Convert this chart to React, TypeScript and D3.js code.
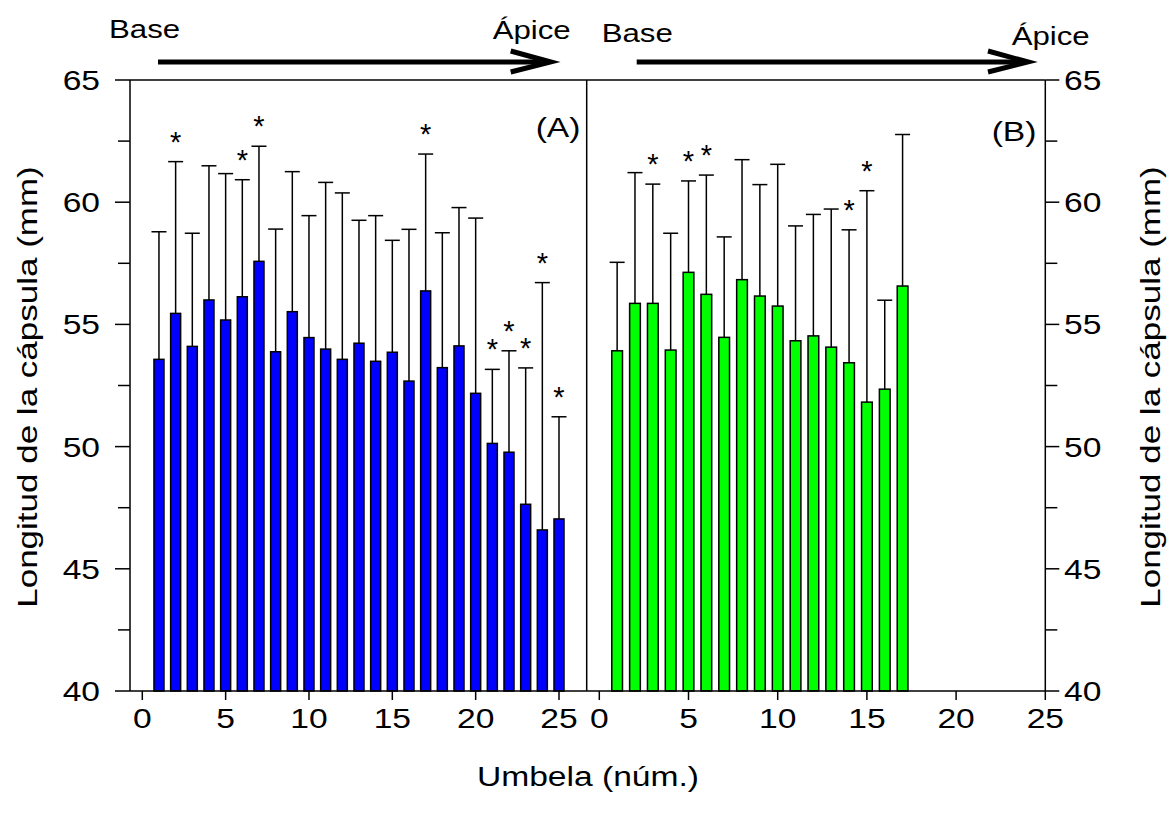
import React from 'react';
import * as d3 from 'd3';

const umbelaA = [1, 2, 3, 4, 5, 6, 7, 8, 9, 10, 11, 12, 13, 14, 15, 16, 17, 18, 19, 20, 21, 22, 23, 24, 25];
const meanA = [53.57, 55.45, 54.1, 56.0, 55.18, 56.13, 57.58, 53.88, 55.52, 54.46, 53.99, 53.57, 54.23, 53.49, 53.86, 52.68, 56.37, 53.23, 54.12, 52.18, 50.13, 49.77, 47.64, 46.59, 47.04];
const sdA = [5.22, 6.21, 4.63, 5.49, 5.99, 4.79, 4.71, 5.02, 5.73, 4.99, 6.82, 6.81, 5.03, 5.96, 4.58, 6.21, 5.6, 5.52, 5.66, 7.17, 3.03, 4.15, 5.58, 10.12, 4.18];
const sigA = [2, 6, 7, 17, 21, 22, 23, 24, 25];

const umbelaB = [1, 2, 3, 4, 5, 6, 7, 8, 9, 10, 11, 12, 13, 14, 15, 16, 17];
const meanB = [53.92, 55.86, 55.86, 53.95, 57.13, 56.23, 54.47, 56.83, 56.16, 55.75, 54.33, 54.53, 54.07, 53.43, 51.82, 52.35, 56.57];
const sdB = [3.62, 5.35, 4.88, 4.78, 3.74, 4.88, 4.11, 4.91, 4.56, 5.8, 4.7, 4.97, 5.65, 5.44, 8.65, 3.64, 6.2];
const sigB = [3, 5, 6, 14, 15];

const xTicks = [0, 5, 10, 15, 20, 25];
const yMajor = [40, 45, 50, 55, 60, 65];
const yMinor = [42.5, 47.5, 52.5, 57.5, 62.5];

const FONT = 'Arial, "Liberation Sans", Helvetica, sans-serif';

const W = 1175;
const H = 823;

const yScale = d3.scaleLinear().domain([40, 65]).range([691, 80]);
const xA = d3.scaleLinear().domain([0, 25]).range([142.3, 559]);
const xB = d3.scaleLinear().domain([0, 25]).range([599.3, 1045.3]);

const leftEdge = 130;
const midEdge = 586.7;
const rightEdge = 1045.3;

const TICK_FS = 28;
const SX = 1.2;

function HText({ x, y, text, anchor = 'start', fs = TICK_FS, sx = SX }: any) {
  return (
    <text
      transform={`translate(${x},${y}) scale(${sx},1)`}
      textAnchor={anchor}
      fontFamily={FONT}
      fontSize={fs}
      fill="#000"
    >
      {text}
    </text>
  );
}

function Bars({ cats, means, sds, sig, x, fill }: any) {
  const bw = (x(1) - x(0)) * 0.6;
  const cap = 15;
  return (
    <g>
      {cats.map((c: number, i: number) => {
        const cx = x(c);
        const top = yScale(means[i]);
        const et = yScale(means[i] + sds[i]);
        return (
          <g key={c}>
            <line x1={cx} x2={cx} y1={top} y2={et} stroke="#000" strokeWidth={1.5} />
            <line x1={cx - cap / 2} x2={cx + cap / 2} y1={et} y2={et} stroke="#000" strokeWidth={1.5} />
            <rect x={cx - bw / 2} y={top} width={bw} height={yScale(40) - top} fill={fill} stroke="#000" strokeWidth={1.5} />
            {sig.includes(c) && (
              <text x={cx} y={et - 10} textAnchor="middle" fontFamily={FONT} fontSize={29} fill="#000">*</text>
            )}
          </g>
        );
      })}
    </g>
  );
}

function Arrow({ x1, x2, y }: any) {
  return (
    <g stroke="#000" strokeWidth={5} fill="none">
      <line x1={x1} x2={x2 - 2} y1={y} y2={y} />
      <polyline points={`${x2 - 40},${y - 11} ${x2},${y} ${x2 - 40},${y + 10}`} strokeLinejoin="miter" />
    </g>
  );
}

export default function App() {
  const y0 = yScale(40);
  const y65 = yScale(65);
  return (
    <svg width={W} height={H} style={{ display: 'block', position: 'absolute', left: 0, top: 0, background: '#fff' }}>
      <rect x={0} y={0} width={W} height={H} fill="#fff" />
      {/* bars */}
      <Bars cats={umbelaA} means={meanA} sds={sdA} sig={sigA} x={xA} fill="#0000ff" />
      <Bars cats={umbelaB} means={meanB} sds={sdB} sig={sigB} x={xB} fill="#00ff00" />

      {/* frame */}
      <g stroke="#000" strokeWidth={1.5}>
        <line x1={leftEdge} x2={leftEdge} y1={y65} y2={y0} />
        <line x1={midEdge} x2={midEdge} y1={y65} y2={y0} />
        <line x1={rightEdge} x2={rightEdge} y1={y65} y2={y0} />
        <line x1={leftEdge} x2={rightEdge} y1={y65} y2={y65} />
        <line x1={leftEdge} x2={rightEdge} y1={y0} y2={y0} />
        {yMajor.map((v) => (
          <line key={'lm' + v} x1={leftEdge - 15} x2={leftEdge} y1={yScale(v)} y2={yScale(v)} />
        ))}
        {yMinor.map((v) => (
          <line key={'ln' + v} x1={leftEdge - 12} x2={leftEdge} y1={yScale(v)} y2={yScale(v)} />
        ))}
        {yMajor.map((v) => (
          <line key={'rm' + v} x1={rightEdge} x2={rightEdge + 14} y1={yScale(v)} y2={yScale(v)} />
        ))}
        {yMinor.map((v) => (
          <line key={'rn' + v} x1={rightEdge} x2={rightEdge + 12} y1={yScale(v)} y2={yScale(v)} />
        ))}
        {xTicks.map((t) => (
          <line key={'xa' + t} x1={xA(t)} x2={xA(t)} y1={y0} y2={y0 + 9} />
        ))}
        {xTicks.map((t) => (
          <line key={'xb' + t} x1={xB(t)} x2={xB(t)} y1={y0} y2={y0 + 9} />
        ))}
      </g>

      {/* tick labels */}
      {yMajor.map((v) => (
        <HText key={'ly' + v} x={100} y={yScale(v) + 10} text={String(v)} anchor="end" />
      ))}
      {yMajor.map((v) => (
        <HText key={'ry' + v} x={1064} y={yScale(v) + 10} text={String(v)} anchor="start" />
      ))}
      {xTicks.map((t) => (
        <HText key={'lx' + t} x={xA(t)} y={728} text={String(t)} anchor="middle" />
      ))}
      {xTicks.map((t) => (
        <HText key={'rx' + t} x={xB(t)} y={728} text={String(t)} anchor="middle" />
      ))}

      {/* titles */}
      <HText x={588} y={786} text="Umbela (núm.)" anchor="middle" />
      <text transform={`translate(37,387) rotate(-90) scale(1.25,1)`} textAnchor="middle" fontFamily={FONT} fontSize={TICK_FS}>
        Longitud de la cápsula (mm)
      </text>
      <text transform={`translate(1160,387) rotate(-90) scale(1.25,1)`} textAnchor="middle" fontFamily={FONT} fontSize={TICK_FS}>
        Longitud de la cápsula (mm)
      </text>

      {/* panel labels */}
      <HText x={558} y={137} text="(A)" anchor="middle" />
      <HText x={1014} y={141} text="(B)" anchor="middle" />

      {/* arrows */}
      <Arrow x1={158} x2={550.7} y={62} />
      <Arrow x1={636.7} x2={1028} y={62} />
      <HText x={109} y={38} text="Base" fs={26} sx={1.2} />
      <HText x={492.7} y={39} text="Ápice" fs={26} sx={1.2} />
      <HText x={601.7} y={42} text="Base" fs={26} sx={1.2} />
      <HText x={1011.7} y={45} text="Ápice" fs={26} sx={1.2} />
    </svg>
  );
}
